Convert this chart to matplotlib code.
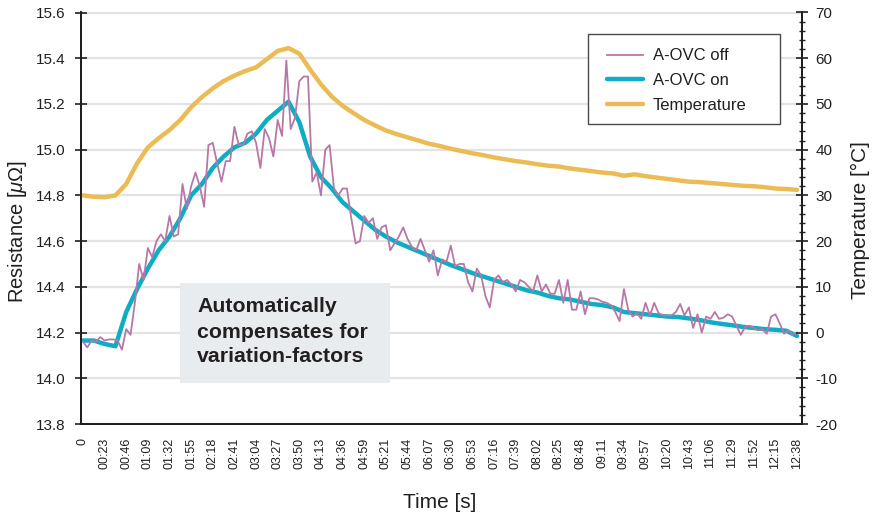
import numpy as np
import matplotlib
matplotlib.use("Agg")
import matplotlib.pyplot as plt
from matplotlib.patches import Rectangle
from matplotlib.lines import Line2D

plt.rcParams['font.family'] = ['Liberation Sans', 'DejaVu Sans']
plt.rcParams['mathtext.fontset'] = 'custom'
plt.rcParams['mathtext.rm'] = 'Liberation Sans'
plt.rcParams['mathtext.it'] = 'Liberation Sans:italic'
plt.rcParams['axes.unicode_minus'] = False

# ---------------- data ----------------
time_labels = ["0", "00:23", "00:46", "01:09", "01:32", "01:55", "02:18", "02:41",
               "03:04", "03:27", "03:50", "04:13", "04:36", "04:59", "05:21", "05:44",
               "06:07", "06:30", "06:53", "07:16", "07:39", "08:02", "08:25", "08:48",
               "09:11", "09:34", "09:57", "10:20", "10:43", "11:06", "11:29", "11:52",
               "12:15", "12:38"]

# A-OVC off (sampled every 0.2 label interval)
r_off = [14.16, 14.135, 14.165, 14.16, 14.18, 14.165, 14.17, 14.17, 14.165, 14.125,
         14.215, 14.19, 14.33, 14.50, 14.43, 14.57, 14.53, 14.60, 14.63, 14.60,
         14.71, 14.62, 14.63, 14.85, 14.74, 14.84, 14.90, 14.84, 14.75, 15.02,
         15.03, 14.94, 14.86, 14.95, 14.95, 15.10, 15.02, 15.02, 15.07, 15.08,
         15.03, 14.92, 15.09, 15.05, 14.97, 15.13, 15.06, 15.39, 15.09, 15.14,
         15.30, 15.32, 15.32, 14.86, 14.90, 14.80, 15.00, 15.02, 14.83, 14.80,
         14.83, 14.83, 14.70, 14.59, 14.60, 14.71, 14.68, 14.70, 14.61, 14.66,
         14.67, 14.56, 14.59, 14.62, 14.66, 14.61, 14.575, 14.56, 14.61, 14.56,
         14.51, 14.56, 14.45, 14.52, 14.51, 14.58, 14.49, 14.50, 14.50, 14.42,
         14.38, 14.48, 14.45, 14.36, 14.31, 14.43, 14.45, 14.42, 14.43, 14.41,
         14.38, 14.43, 14.42, 14.40, 14.38, 14.45, 14.38, 14.41, 14.37, 14.37,
         14.43, 14.33, 14.43, 14.30, 14.30, 14.38, 14.28, 14.35, 14.35, 14.345,
         14.335, 14.33, 14.32, 14.29, 14.25, 14.39, 14.30, 14.27, 14.285, 14.26,
         14.33, 14.275, 14.33, 14.285, 14.275, 14.275, 14.275, 14.29, 14.325, 14.275,
         14.31, 14.22, 14.28, 14.20, 14.27, 14.26, 14.29, 14.26, 14.265, 14.28,
         14.27, 14.23, 14.19, 14.225, 14.23, 14.22, 14.21, 14.215, 14.195, 14.27,
         14.28, 14.24, 14.195, 14.21, 14.19, 14.20]

# A-OVC on (sampled every 0.5 label interval)
r_on = [14.165, 14.165, 14.15, 14.14, 14.29, 14.39, 14.48, 14.56, 14.62, 14.70,
        14.80, 14.85, 14.92, 14.97, 15.01, 15.03, 15.07, 15.13, 15.17, 15.21,
        15.12, 14.97, 14.88, 14.83, 14.77, 14.73, 14.69, 14.65, 14.62, 14.595,
        14.575, 14.555, 14.535, 14.515, 14.495, 14.478, 14.46, 14.445, 14.43, 14.415,
        14.40, 14.385, 14.375, 14.36, 14.35, 14.345, 14.335, 14.325, 14.32, 14.31,
        14.29, 14.285, 14.28, 14.275, 14.27, 14.268, 14.262, 14.255, 14.245, 14.238,
        14.232, 14.225, 14.22, 14.215, 14.212, 14.208, 14.185]

# Temperature (sampled every 0.5 label interval)
temperature = [30.0, 29.7, 29.6, 30.0, 32.5, 37.0, 40.5, 42.5, 44.3, 46.5,
               49.3, 51.5, 53.4, 55.0, 56.2, 57.2, 58.0, 59.8, 61.6, 62.2,
               61.0, 57.5, 54.3, 51.6, 49.6, 48.0, 46.5, 45.3, 44.2, 43.4,
               42.7, 42.0, 41.3, 40.8, 40.2, 39.7, 39.2, 38.8, 38.3, 37.9,
               37.5, 37.2, 36.8, 36.5, 36.3, 35.9, 35.6, 35.3, 35.0, 34.8,
               34.3, 34.6, 34.2, 33.9, 33.6, 33.3, 33.0, 32.9, 32.7, 32.5,
               32.3, 32.1, 32.0, 31.8, 31.5, 31.4, 31.2]

x_off = np.arange(len(r_off)) * 0.2
x_on = np.arange(len(r_on)) * 0.5
x_temp = np.arange(len(temperature)) * 0.5

# ---------------- style ----------------
W, H = 882, 517
DARK = '#231f20'
C_OFF = '#b777a8'
C_ON = '#0fadc3'
C_TEMP = '#ebbb55'

fig = plt.figure(figsize=(W / 100, H / 100), dpi=100)
L, R, T, B = 81, 802, 12.5, 424
ax = fig.add_axes([L / W, 1 - B / H, (R - L) / W, (B - T) / H])
ax2 = ax.twinx()

ax.set_xlim(-0.09, 33.23)
ax.set_ylim(13.8, 15.6)
ax2.set_ylim(-20, 70)

ax.set_yticks(np.round(np.arange(13.8, 15.61, 0.2), 1))
ax.set_yticklabels([f"{v:.1f}" for v in np.arange(13.8, 15.61, 0.2)])
ax.grid(axis='y', color='#e3e3e3', linewidth=1.6)
ax.set_axisbelow(True)

ax.set_xticks(np.arange(len(time_labels)))
ax.set_xticklabels(time_labels, rotation=90, fontsize=9, color=DARK)
ax.tick_params(axis='x', length=0, pad=10)
ax.tick_params(axis='y', direction='inout', length=8, width=1.2, color=DARK,
               labelsize=11, labelcolor=DARK, pad=7)

ax2.set_yticks(np.arange(-20, 71, 10))
ax2.set_yticks(np.arange(-20, 71, 2), minor=True)
ax2.tick_params(axis='y', which='major', direction='inout', length=9, width=1.2,
                color=DARK, labelsize=11, labelcolor=DARK, pad=5)
ax2.tick_params(axis='y', which='minor', direction='inout', length=5, width=1.0,
                color=DARK)

for a in (ax, ax2):
    a.spines['top'].set_visible(False)
    for s in ('left', 'right', 'bottom'):
        a.spines[s].set_color(DARK)
        a.spines[s].set_linewidth(1.4)

ax.plot(x_on, r_on, color=C_ON, linewidth=3.2, solid_capstyle='round',
        solid_joinstyle='round', zorder=3)
ax.plot(x_off, r_off, color=C_OFF, linewidth=1.3, zorder=4)
ax2.plot(x_temp, temperature, color=C_TEMP, linewidth=3.2,
         solid_capstyle='round', solid_joinstyle='round')

# axis labels
fig.text(18 / W, 1 - 231 / H, r"Resistance [$\mu$Ω]", rotation=90,
         ha='center', va='center', fontsize=14.5, color=DARK)
fig.text(860 / W, 1 - 220 / H, "Temperature [°C]", rotation=90,
         ha='center', va='center', fontsize=15, color=DARK)
fig.text(440 / W, 1 - 503 / H, "Time [s]", ha='center', va='center',
         fontsize=15, color=DARK)

# legend (frame drawn separately)
fig.patches.append(Rectangle((588 / W, 1 - 124 / H), 192 / W, 90 / H,
                             transform=fig.transFigure, facecolor='white',
                             edgecolor='#4a4a4a', linewidth=1.0, zorder=5))
handles = [Line2D([], [], color=C_OFF, linewidth=1.3),
           Line2D([], [], color=C_ON, linewidth=3.2, solid_capstyle='round'),
           Line2D([], [], color=C_TEMP, linewidth=3.2, solid_capstyle='round')]
leg = fig.legend(handles, ["A-OVC off", "A-OVC on", "Temperature"],
                 loc='upper left', bbox_to_anchor=(607 / W, 1 - 48.5 / H),
                 bbox_transform=fig.transFigure, borderaxespad=0, borderpad=0,
                 frameon=False, fontsize=12, handlelength=2.15,
                 handletextpad=0.6, labelspacing=0.58)
leg.set_zorder(6)
for t in leg.get_texts():
    t.set_color(DARK)

# annotation box
fig.patches.append(Rectangle((180 / W, 1 - 383 / H), 210 / W, 100 / H,
                             transform=fig.transFigure, facecolor='#e9ecee',
                             edgecolor='none', zorder=5))
fig.text(197 / W, 1 - 332 / H,
         "Automatically\ncompensates for\nvariation-factors",
         ha='left', va='center', fontsize=15.3, fontweight='bold', color=DARK,
         linespacing=1.4, zorder=6)

fig.savefig("out.png", dpi=100)
